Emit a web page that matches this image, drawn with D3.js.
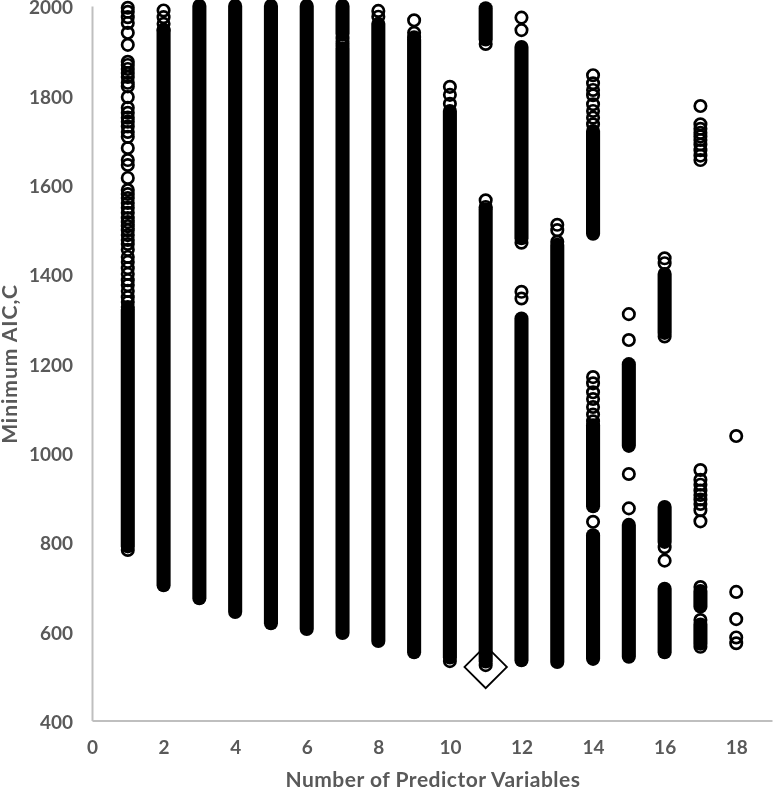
<!DOCTYPE html>
<html>
<head>
<meta charset="utf-8">
<script src="https://cdn.jsdelivr.net/npm/d3@7/dist/d3.min.js"></script>
<style>
html,body{margin:0;padding:0;background:#fff;overflow:hidden}
svg{display:block;filter:blur(0.45px)}
text{font-family:Lato,"Open Sans",sans-serif;font-weight:700;fill:#595959}
</style>
</head>
<body>
<script>
const xTicks = [0,2,4,6,8,10,12,14,16,18];
const yTicks = [400,600,800,1000,1200,1400,1600,1800,2000];
const xTitle = "Number of Predictor Variables";
const yTitle = "Minimum AIC,C";

// [predictor count, lowest AIC, highest AIC] : runs of overlapping models that read as solid
const solidRuns = [
  [1,790,1320],
  [2,703,1945],
  [3,674,2000],[4,643,2000],[5,618,2000],[6,605,2000],
  [7,596,1905],[7,1938,2000],
  [8,578,1960],
  [9,553,1925],
  [10,541,1765],
  [11,532,1545],[11,1925,1995],
  [12,535,1300],[12,1480,1908],
  [13,531,1465],
  [14,538,815],[14,880,1061],[14,1490,1720],
  [15,543,838],[15,1015,1198],
  [16,553,695],[16,800,878],[16,1268,1400],
  [17,655,690],[17,572,615]
];
// individually visible models: [predictor count, AIC values...]
const openRings = [
  [1,1996,1987,1975,1962,1940,1913,1875,1868,1859,1850,1841,1828,1820,1796,1772,1761,1750,1741,1730,1718,1707,1682,1655,1644,1615,1588,1579,1570,1559,1548,1537,1525,1516,1507,1498,1487,1476,1467,1454,1438,1427,1413,1400,1386,1375,1362,1348,1337,1326,782],
  [2,1990,1975,1960,1947],
  [7,1928,1920,1912],
  [8,1989,1976],
  [9,1968,1940,1930],
  [10,1819,1801,1781,533],
  [11,1565,1550,524,1915],
  [12,1974,1946,1360,1345,1470],
  [13,1510,1498,1472],
  [14,1845,1827,1812,1800,1780,1765,1750,1735,1169,1155,1135,1120,1102,1085,1070,845],
  [15,1310,1252,952,875],
  [16,1435,1424,788,758,1260],
  [17,1776,1735,1725,1716,1708,1700,1690,1677,1665,1655,961,939,928,915,905,895,885,871,846,699,625,565],
  [18,1037,688,627,586,573]
];
const bestModel = [11,520];

const width = 773, height = 791;
const x = d3.scaleLinear().domain([0,19]).range([92,772]);
const y = d3.scaleLinear().domain([400,2000]).range([720.5,6]);

const svg = d3.select("body").append("svg").attr("width",width).attr("height",height);

const xAxis = svg.append("g").attr("transform",`translate(0,${y(400)})`)
  .call(d3.axisBottom(x).tickValues(xTicks).tickSize(0).tickPadding(20).tickFormat(d3.format("d")));
const yAxis = svg.append("g").attr("transform",`translate(${x(0)},0)`)
  .call(d3.axisLeft(y).tickValues(yTicks).tickSize(0).tickPadding(19).tickFormat(d3.format("d")));
[xAxis,yAxis].forEach(a=>{
  a.select(".domain").attr("stroke","#bfbfbf").attr("stroke-width",2);
  a.selectAll("text").style("font-size","19px").style("font-family","Lato").attr("fill","#595959");
});
yAxis.selectAll("text").attr("dy","0.36em").attr("y",1);

const R = 5.7, SW = 2.7;

svg.append("g").selectAll("line").data(solidRuns).join("line")
  .attr("x1",d=>x(d[0])).attr("x2",d=>x(d[0]))
  .attr("y1",d=>y(d[1])).attr("y2",d=>y(d[2]))
  .attr("stroke","#000").attr("stroke-width",2*R+SW).attr("stroke-linecap","round");

const ringData = openRings.flatMap(r=>r.slice(1).map(v=>[r[0],v]));
svg.append("g").selectAll("circle").data(ringData).join("circle")
  .attr("cx",d=>x(d[0])).attr("cy",d=>y(d[1])).attr("r",R)
  .attr("fill","none").attr("stroke","#000").attr("stroke-width",SW);

svg.append("path")
  .attr("d",d3.symbol().type(d3.symbolSquare).size(900)())
  .attr("transform",`translate(${x(bestModel[0])},${y(bestModel[1])}) rotate(45)`)
  .attr("fill","none").attr("stroke","#000").attr("stroke-width",1.8);

svg.append("text").attr("x",433).attr("y",787).attr("text-anchor","middle")
  .style("font-size","21px").style("letter-spacing","0.5px").text(xTitle);
svg.append("text").attr("transform","translate(17,364) rotate(-90)").attr("text-anchor","middle")
  .style("font-size","21px").style("letter-spacing","1px").text(yTitle);
</script>
</body>
</html>
